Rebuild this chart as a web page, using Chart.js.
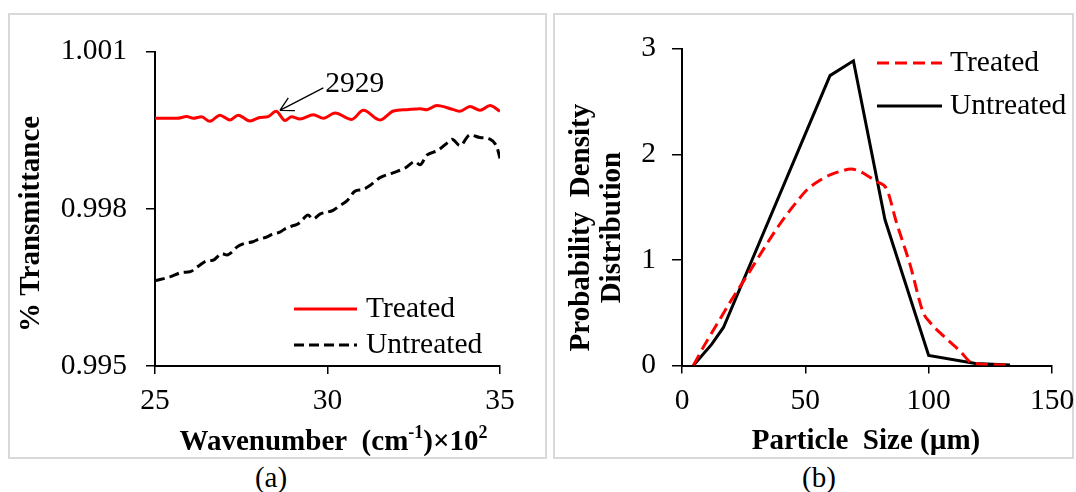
<!DOCTYPE html>
<html>
<head>
<meta charset="utf-8">
<script src="https://cdn.jsdelivr.net/npm/chart.js@4.4.1/dist/chart.umd.min.js"></script>
<style>
  html, body { margin: 0; padding: 0; background: #fff; }
  body { width: 1076px; height: 492px; position: relative; overflow: hidden;
         font-family: 'Liberation Serif', 'Times New Roman', serif; }
  .frame { position: absolute; top: 13px; height: 446px; box-sizing: border-box;
           border: 2px solid #d9d9d9; }
  canvas { position: absolute; top: 15px; }
  .tag { position: absolute; top: 461px; width: 80px; margin-left: -40px; text-align: center;
         font-size: 29px; line-height: 32px; color: #000; }
</style>
</head>
<body>
<div class="frame" style="left:8px;width:539px;"></div>
<div class="frame" style="left:553px;width:521px;"></div>
<canvas id="ftir" width="535" height="441" style="left:10px;"></canvas>
<canvas id="psd" width="530" height="441" style="left:556px;"></canvas>
<div class="tag" style="left:271px;">(a)</div>
<div class="tag" style="left:819px;">(b)</div>
<script>
// ---- (a) FTIR transmittance, wavenumber in units of 10^2 cm^-1 ----
const wnTreated = [25.00, 25.29, 25.63, 25.92, 26.11, 26.35, 26.59, 26.88, 27.17, 27.41,
                   27.75, 28.04, 28.28, 28.51, 28.77, 28.96, 29.20, 29.59, 29.88, 30.22,
                   30.70, 31.04, 31.52, 31.91, 32.30, 32.68, 32.88, 33.17, 33.65, 33.84,
                   34.13, 34.42, 34.71, 35.00];
const transTreated = [0.999728, 0.999728, 0.999728, 0.999761, 0.999728, 0.999758, 0.999670, 0.999789, 0.999697, 0.999789,
                      0.999679, 0.999743, 0.999761, 0.999862, 0.999688, 0.999758, 0.999716, 0.999798, 0.999728, 0.999831,
                      0.999706, 0.999881, 0.999697, 0.999868, 0.999894, 0.999912, 0.999894, 0.999972, 0.999894, 0.999862,
                      0.999954, 0.999881, 0.999972, 0.999862];
const wnUntreated = [25.00, 25.43, 25.81, 26.01, 26.25, 26.51, 26.68, 26.88, 26.94, 27.09,
                     27.26, 27.38, 27.61, 27.84, 27.99, 28.25, 28.39, 28.62, 28.77, 29.00,
                     29.14, 29.29, 29.43, 29.58, 29.78, 30.16, 30.36, 30.57, 30.80, 31.01,
                     31.23, 31.52, 31.90, 32.25, 32.54, 32.68, 32.88, 33.20, 33.49, 33.61,
                     33.84, 34.13, 34.42, 34.71, 34.91, 35.00];
const transUntreated = [0.996627, 0.996701, 0.996789, 0.996798, 0.996902, 0.997009, 0.997018, 0.997128, 0.997146, 0.997119,
                        0.997189, 0.997275, 0.997343, 0.997372, 0.997416, 0.997464, 0.997514, 0.997556, 0.997618, 0.997679,
                        0.997710, 0.997802, 0.997881, 0.997807, 0.997899, 0.997972, 0.998064, 0.998156, 0.998339, 0.998367,
                        0.998444, 0.998596, 0.998688, 0.998780, 0.998903, 0.998840, 0.999024, 0.999116, 0.999270, 0.999330,
                        0.999207, 0.999413, 0.999361, 0.999330, 0.999178, 0.998963];
const wnTicks = [25, 30, 35];
const transTicks = [0.995, 0.998, 1.001];

// ---- (b) particle size distribution ----
const sizeTreated = [4.6, 9.3, 15.4, 19.5, 26.9, 33.0, 39.7, 46.5, 50.5, 55.0,
                     60.0, 64.5, 68.5, 72.0, 75.0, 79.0, 83.0, 87.0, 92.4, 97.8,
                     100.5, 106.0, 112.6, 118.0, 132.0];
const pdfTreated = [0.00, 0.20, 0.44, 0.60, 0.87, 1.10, 1.34, 1.55, 1.66, 1.74,
                    1.805, 1.84, 1.86, 1.84, 1.80, 1.74, 1.67, 1.35, 0.96, 0.50,
                    0.41, 0.28, 0.14, 0.02, 0.005];
const sizeUntreated = [4.6, 12.0, 16.8, 60.0, 69.5, 82.3, 100.0, 119.0, 133.0];
const pdfUntreated = [0.00, 0.20, 0.36, 2.745, 2.885, 1.38, 0.095, 0.02, 0.005];
const sizeTicks = [0, 50, 100, 150];
const pdfTicks = [0, 1, 2, 3];

const FONT = "'Liberation Serif', 'Times New Roman', serif";
const TEXT_SIZE = 29.5;   // tick labels, legend, callout
const TITLE_SIZE = 29;    // bold axis captions
Chart.defaults.font.family = FONT;
Chart.defaults.color = '#000';

const pairs = (xs, ys) => xs.map((x, i) => ({ x, y: ys[i] }));

// bold axis captions, with optional superscript runs and multi-line rotated titles
function drawRuns(ctx, runs, cx, cy, size) {
  const parts = runs.map(r => {
    const fs = r.sup ? size * 0.62 : size;
    ctx.font = `bold ${fs}px ${FONT}`;
    return { t: r.t, fs, sup: !!r.sup, w: ctx.measureText(r.t).width };
  });
  const total = parts.reduce((s, p) => s + p.w, 0);
  let x = cx - total / 2;
  ctx.textAlign = 'left';
  ctx.textBaseline = 'middle';
  parts.forEach(p => {
    ctx.font = `bold ${p.fs}px ${FONT}`;
    ctx.fillText(p.t, x, p.sup ? cy - size * 0.32 : cy);
    x += p.w;
  });
}

const captionPlugin = {
  id: 'captions',
  afterDraw(chart, args, o) {
    const ctx = chart.ctx, a = chart.chartArea;
    ctx.save();
    ctx.fillStyle = '#000';
    if (o.xTitle) {
      drawRuns(ctx, o.xTitle.runs, (a.left + a.right) / 2 + o.xTitle.dx, a.bottom + o.xTitle.dy, o.size);
    }
    if (o.yTitle) {
      ctx.translate(o.yTitle.x, (a.top + a.bottom) / 2 + o.yTitle.dy);
      ctx.rotate(-Math.PI / 2);
      ctx.font = `bold ${o.size}px ${FONT}`;
      ctx.textAlign = 'center';
      ctx.textBaseline = 'middle';
      o.yTitle.lines.forEach((line, i) => ctx.fillText(line, 0, i * o.yTitle.gap));
    }
    ctx.restore();
  }
};

// legend drawn inside the plot area
const keyPlugin = {
  id: 'key',
  afterDatasetsDraw(chart, args, o) {
    const ctx = chart.ctx;
    chart.data.datasets.forEach((ds, i) => {
      const y = o.rows[i];
      ctx.save();
      ctx.strokeStyle = ds.borderColor;
      ctx.lineWidth = ds.borderWidth;
      ctx.setLineDash(ds.borderDash || []);
      ctx.beginPath();
      ctx.moveTo(o.x0, y);
      ctx.lineTo(o.x1, y);
      ctx.stroke();
      ctx.setLineDash([]);
      ctx.fillStyle = '#000';
      ctx.font = `${o.size}px ${FONT}`;
      ctx.textAlign = 'left';
      ctx.textBaseline = 'middle';
      ctx.fillText(ds.label, o.textX, y);
      ctx.restore();
    });
  }
};

// arrow callout marking a band
const calloutPlugin = {
  id: 'callout',
  afterDatasetsDraw(chart, args, o) {
    if (!o.text) return;
    const ctx = chart.ctx, xs = chart.scales.x, ys = chart.scales.y;
    const tx = xs.getPixelForValue(o.tip[0]), ty = ys.getPixelForValue(o.tip[1]);
    const sx = xs.getPixelForValue(o.tail[0]), sy = ys.getPixelForValue(o.tail[1]);
    const ang = Math.atan2(sy - ty, sx - tx);
    ctx.save();
    ctx.strokeStyle = '#000';
    ctx.lineWidth = 1.3;
    ctx.beginPath();
    ctx.moveTo(sx, sy);
    ctx.lineTo(tx, ty);
    [-1, 1].forEach(s => {
      ctx.moveTo(tx, ty);
      ctx.lineTo(tx + o.head * Math.cos(ang + s * 0.5), ty + o.head * Math.sin(ang + s * 0.5));
    });
    ctx.stroke();
    ctx.fillStyle = '#000';
    ctx.font = `${o.size}px ${FONT}`;
    ctx.textAlign = 'left';
    ctx.textBaseline = 'middle';
    ctx.fillText(o.text, sx + 2, sy - 4);
    ctx.restore();
  }
};

function scale(ticksArr, min, max, extra) {
  return Object.assign({
    type: 'linear', min, max,
    afterBuildTicks: s => { s.ticks = ticksArr.map(v => ({ value: v })); },
    grid: { drawOnChartArea: false, color: '#000', lineWidth: 1.5, tickLength: 9 },
    border: { color: '#000', width: 2 },
    ticks: { font: { size: TEXT_SIZE }, color: '#000', autoSkip: false, maxRotation: 0 }
  }, extra);
}

new Chart(document.getElementById('ftir'), {
  type: 'line',
  data: {
    datasets: [
      { label: 'Treated', data: pairs(wnTreated, transTreated), borderColor: '#ff0000',
        borderWidth: 3, pointRadius: 0, cubicInterpolationMode: 'monotone', fill: false },
      { label: 'Untreated', data: pairs(wnUntreated, transUntreated), borderColor: '#000000',
        borderWidth: 3, borderDash: [10, 5], pointRadius: 0, cubicInterpolationMode: 'monotone', fill: false }
    ]
  },
  options: {
    responsive: false, animation: false, events: [],
    layout: { padding: { left: 0, top: 24, right: 45, bottom: 0 } },
    plugins: {
      legend: { display: false }, tooltip: { enabled: false },
      captions: {
        size: TITLE_SIZE,
        xTitle: { runs: [{ t: 'Wavenumber  (cm' }, { t: '-1', sup: true }, { t: ')×10' }, { t: '2', sup: true }], dx: 6, dy: 77 },
        yTitle: { lines: ['% Transmittance'], x: 22, dy: 15, gap: 31 }
      },
      key: { size: TEXT_SIZE, x0: 284, x1: 347, textX: 356, rows: [294, 330] },
      callout: { text: '2929', size: TEXT_SIZE, tip: [28.62, 0.999881], tail: [29.88, 1.000308], head: 15 }
    },
    scales: {
      x: scale(wnTicks, 25, 35, {
        afterFit: s => { s.height = 90; }
      }),
      y: scale(transTicks, 0.995, 1.001, {
        afterFit: s => { s.width = 145; }
      })
    }
  },
  plugins: [captionPlugin, keyPlugin, calloutPlugin]
});

const ftirChart = Chart.getChart('ftir');
ftirChart.options.scales.x.grid.tickLength = 8;
ftirChart.options.scales.x.ticks.padding = 10;
ftirChart.options.scales.y.ticks.padding = 19;
ftirChart.options.scales.y.ticks.callback = v => Number(v).toFixed(3);
ftirChart.update();

new Chart(document.getElementById('psd'), {
  type: 'line',
  data: {
    datasets: [
      { label: 'Treated', data: pairs(sizeTreated, pdfTreated), borderColor: '#ff0000',
        borderWidth: 3, borderDash: [12, 6], pointRadius: 0, cubicInterpolationMode: 'monotone', fill: false },
      { label: 'Untreated', data: pairs(sizeUntreated, pdfUntreated), borderColor: '#000000',
        borderWidth: 3, pointRadius: 0, tension: 0, fill: false }
    ]
  },
  options: {
    responsive: false, animation: false, events: [],
    layout: { padding: { left: 0, top: 20.5, right: 34, bottom: 0 } },
    plugins: {
      legend: { display: false }, tooltip: { enabled: false },
      captions: {
        size: TITLE_SIZE,
        xTitle: { runs: [{ t: 'Particle  Size (µm)' }], dx: -1, dy: 76.5 },
        yTitle: { lines: ['Probability  Density', 'Distribution'], x: 26, dy: 20.5, gap: 31 }
      },
      key: { size: TEXT_SIZE, x0: 321, x1: 386, textX: 394, rows: [48, 91] },
      callout: {}
    },
    scales: {
      x: scale(sizeTicks, 0, 150, {
        afterFit: s => { s.height = 90.5; }
      }),
      y: scale(pdfTicks, 0, 3, {
        afterFit: s => { s.width = 126; }
      })
    }
  },
  plugins: [captionPlugin, keyPlugin, calloutPlugin]
});

const psdChart = Chart.getChart('psd');
psdChart.options.scales.x.grid.tickLength = 8;
psdChart.options.scales.x.ticks.padding = 10;
psdChart.options.scales.y.grid.tickLength = 10;
psdChart.options.scales.y.ticks.padding = 16;
psdChart.update();
</script>
</body>
</html>
